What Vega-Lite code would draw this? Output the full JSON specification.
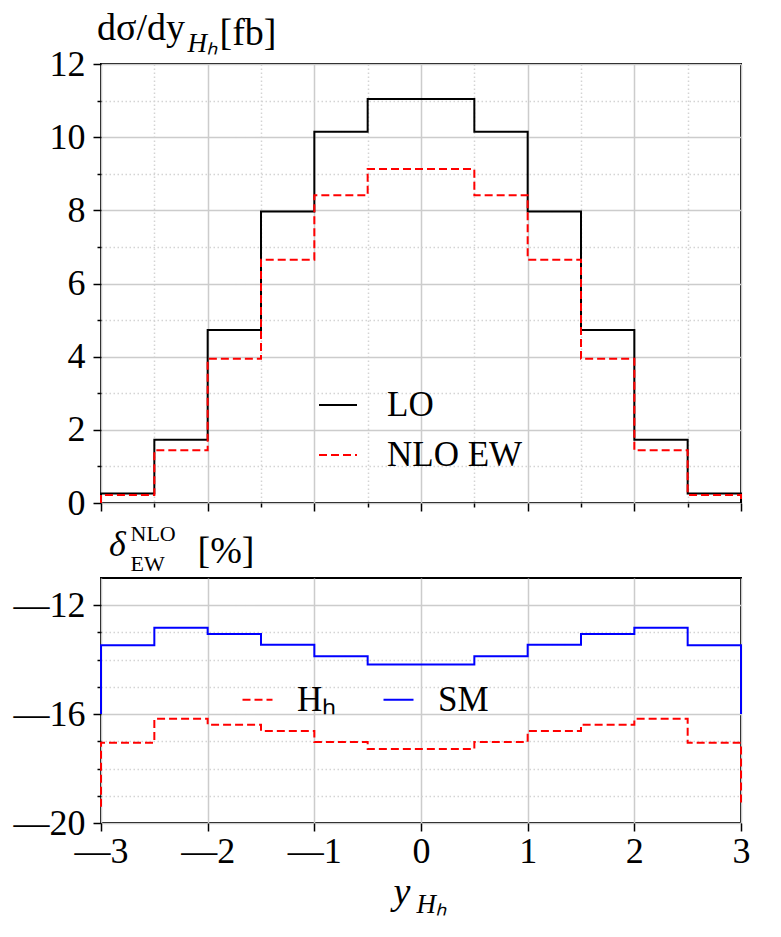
{
  "$schema": "https://vega.github.io/schema/vega-lite/v6.json",
  "background": "white",
  "padding": {"left": 12, "top": 9, "right": 5, "bottom": 5},
  "config": {
    "font": "Liberation Serif",
    "view": {"stroke": "black", "strokeWidth": 2},
    "axis": {
      "labelFont": "Liberation Serif",
      "labelFontSize": 36,
      "labelColor": "black",
      "titleFont": "Liberation Serif",
      "titleFontWeight": "normal",
      "titleColor": "black",
      "domain": false,
      "tickColor": "black",
      "tickWidth": 1.5,
      "labelOverlap": false,
      "labelFlush": false,
      "gridWidth": 1.5
    },
    "title": {"font": "Liberation Serif", "fontWeight": "normal", "color": "black"},
    "legend": {"labelFont": "Liberation Serif", "labelFontSize": 35, "labelColor": "black", "padding": 0}
  },
  "spacing": 75,
  "bounds": "flush",
  "resolve": {
    "scale": {"color": "independent", "strokeDash": "independent"},
    "legend": {"color": "independent", "strokeDash": "independent"}
  },
  "vconcat": [
    {
      "width": 640,
      "height": 439,
      "title": {"text": "dσ/dy", "anchor": "start", "frame": "group", "fontSize": 38, "baseline": "alphabetic", "offset": -64, "dx": -4},
      "data": {
        "values": [
          {"series": "LO", "k": 0, "rap": -3, "val": 0},
          {"series": "LO", "k": 1, "rap": -3, "val": 0.26},
          {"series": "LO", "k": 2, "rap": -2.5, "val": 1.73},
          {"series": "LO", "k": 3, "rap": -2, "val": 4.73},
          {"series": "LO", "k": 4, "rap": -1.5, "val": 7.97},
          {"series": "LO", "k": 5, "rap": -1, "val": 10.15},
          {"series": "LO", "k": 6, "rap": -0.5, "val": 11.04},
          {"series": "LO", "k": 7, "rap": 0, "val": 11.04},
          {"series": "LO", "k": 8, "rap": 0.5, "val": 10.15},
          {"series": "LO", "k": 9, "rap": 1, "val": 7.97},
          {"series": "LO", "k": 10, "rap": 1.5, "val": 4.73},
          {"series": "LO", "k": 11, "rap": 2, "val": 1.73},
          {"series": "LO", "k": 12, "rap": 2.5, "val": 0.26},
          {"series": "LO", "k": 13, "rap": 3, "val": 0.26},
          {"series": "LO", "k": 14, "rap": 3, "val": 0},
          {"series": "NLO EW", "k": 0, "rap": -3, "val": 0},
          {"series": "NLO EW", "k": 1, "rap": -3, "val": 0.22},
          {"series": "NLO EW", "k": 2, "rap": -2.5, "val": 1.44},
          {"series": "NLO EW", "k": 3, "rap": -2, "val": 3.94},
          {"series": "NLO EW", "k": 4, "rap": -1.5, "val": 6.65},
          {"series": "NLO EW", "k": 5, "rap": -1, "val": 8.41},
          {"series": "NLO EW", "k": 6, "rap": -0.5, "val": 9.13},
          {"series": "NLO EW", "k": 7, "rap": 0, "val": 9.13},
          {"series": "NLO EW", "k": 8, "rap": 0.5, "val": 8.41},
          {"series": "NLO EW", "k": 9, "rap": 1, "val": 6.65},
          {"series": "NLO EW", "k": 10, "rap": 1.5, "val": 3.94},
          {"series": "NLO EW", "k": 11, "rap": 2, "val": 1.44},
          {"series": "NLO EW", "k": 12, "rap": 2.5, "val": 0.22},
          {"series": "NLO EW", "k": 13, "rap": 3, "val": 0.22},
          {"series": "NLO EW", "k": 14, "rap": 3, "val": 0}
        ]
      },
      "mark": {"type": "line", "interpolate": "step-after", "strokeWidth": 2},
      "encoding": {
        "x": {
          "field": "rap",
          "type": "quantitative",
          "scale": {"domain": [-3, 3], "nice": false, "zero": false},
          "axis": {
            "values": [-3, -2.5, -2, -1.5, -1, -0.5, 0, 0.5, 1, 1.5, 2, 2.5, 3],
            "labels": false,
            "tickSize": {"condition": {"test": "datum.value % 1 === 0", "value": 8}, "value": 4},
            "gridDash": {"condition": {"test": "datum.value % 1 === 0", "value": [1, 0]}, "value": [1.5, 2.5]},
            "gridColor": {"condition": {"test": "datum.value % 1 === 0", "value": "#cccccc"}, "value": "#d4d4d4"},
            "title": "[fb]",
            "titleFontSize": 38,
            "titleX": 118,
            "titleY": -459,
            "titleAlign": "left",
            "titleBaseline": "alphabetic"
          }
        },
        "y": {
          "field": "val",
          "type": "quantitative",
          "scale": {"domain": [0, 12], "nice": false},
          "axis": {
            "values": [0, 0.5, 1, 1.5, 2, 2.5, 3, 3.5, 4, 4.5, 5, 5.5, 6, 6.5, 7, 7.5, 8, 8.5, 9, 9.5, 10, 10.5, 11, 11.5, 12],
            "format": "d",
            "labelExpr": "datum.value % 2 === 0 ? datum.label : ''",
            "labelPadding": 8,
            "tickSize": {"condition": {"test": "datum.value % 2 === 0", "value": 8}, "value": 4},
            "gridDash": {"condition": {"test": "datum.value % 2 === 0", "value": [1, 0]}, "value": [1.5, 2.5]},
            "gridColor": {"condition": {"test": "datum.value % 2 === 0", "value": "#cccccc"}, "value": "#d4d4d4"},
            "title": "Hₕ",
            "titleFontSize": 27,
            "titleFontStyle": "italic",
            "titleAngle": 0,
            "titleX": 86,
            "titleY": -13,
            "titleAlign": "left",
            "titleBaseline": "alphabetic"
          }
        },
        "color": {
          "field": "series",
          "type": "nominal",
          "scale": {"domain": ["LO", "NLO EW"], "range": ["black", "#ff0000"]},
          "legend": {"title": null, "orient": "none", "legendX": 217, "legendY": 321, "symbolType": "stroke", "symbolSize": 1444, "symbolStrokeWidth": 2, "labelOffset": 29, "rowPadding": 12}
        },
        "strokeDash": {
          "field": "series",
          "type": "nominal",
          "scale": {"domain": ["LO", "NLO EW"], "range": [[1, 0], [8, 4]]},
          "legend": {"title": null, "orient": "none", "legendX": 217, "legendY": 321, "symbolType": "stroke", "symbolSize": 1444, "symbolStrokeWidth": 2, "labelOffset": 29, "rowPadding": 12}
        },
        "order": {"field": "k"}
      }
    },
    {
      "width": 640,
      "height": 245,
      "title": {"text": "δ", "anchor": "start", "frame": "group", "fontSize": 36, "fontStyle": "italic", "baseline": "alphabetic", "offset": -70, "dx": 8},
      "data": {
        "values": [
          {"series": "Hₕ", "k": 0, "rap": -3, "val": -19.4},
          {"series": "Hₕ", "k": 1, "rap": -3, "val": -17.05},
          {"series": "Hₕ", "k": 2, "rap": -2.5, "val": -16.17},
          {"series": "Hₕ", "k": 3, "rap": -2, "val": -16.39},
          {"series": "Hₕ", "k": 4, "rap": -1.5, "val": -16.62},
          {"series": "Hₕ", "k": 5, "rap": -1, "val": -17.02},
          {"series": "Hₕ", "k": 6, "rap": -0.5, "val": -17.28},
          {"series": "Hₕ", "k": 7, "rap": 0, "val": -17.28},
          {"series": "Hₕ", "k": 8, "rap": 0.5, "val": -17.02},
          {"series": "Hₕ", "k": 9, "rap": 1, "val": -16.62},
          {"series": "Hₕ", "k": 10, "rap": 1.5, "val": -16.39},
          {"series": "Hₕ", "k": 11, "rap": 2, "val": -16.17},
          {"series": "Hₕ", "k": 12, "rap": 2.5, "val": -17.05},
          {"series": "Hₕ", "k": 13, "rap": 3, "val": -17.05},
          {"series": "Hₕ", "k": 14, "rap": 3, "val": -19.3},
          {"series": "SM", "k": 0, "rap": -3, "val": -16},
          {"series": "SM", "k": 1, "rap": -3, "val": -13.47},
          {"series": "SM", "k": 2, "rap": -2.5, "val": -12.83},
          {"series": "SM", "k": 3, "rap": -2, "val": -13.06},
          {"series": "SM", "k": 4, "rap": -1.5, "val": -13.45},
          {"series": "SM", "k": 5, "rap": -1, "val": -13.87},
          {"series": "SM", "k": 6, "rap": -0.5, "val": -14.18},
          {"series": "SM", "k": 7, "rap": 0, "val": -14.18},
          {"series": "SM", "k": 8, "rap": 0.5, "val": -13.87},
          {"series": "SM", "k": 9, "rap": 1, "val": -13.45},
          {"series": "SM", "k": 10, "rap": 1.5, "val": -13.06},
          {"series": "SM", "k": 11, "rap": 2, "val": -12.83},
          {"series": "SM", "k": 12, "rap": 2.5, "val": -13.47},
          {"series": "SM", "k": 13, "rap": 3, "val": -13.47},
          {"series": "SM", "k": 14, "rap": 3, "val": -16}
        ]
      },
      "encoding": {
        "color": {
          "field": "series",
          "type": "nominal",
          "scale": {"domain": ["Hₕ", "SM"], "range": ["#ff0000", "#0000ff"]},
          "legend": {"title": null, "orient": "none", "direction": "horizontal", "legendX": 139, "legendY": 104, "symbolType": "stroke", "symbolSize": 900, "symbolStrokeWidth": 2, "labelOffset": 22, "columnPadding": 42}
        },
        "strokeDash": {
          "field": "series",
          "type": "nominal",
          "scale": {"domain": ["Hₕ", "SM"], "range": [[8, 4], [1, 0]]},
          "legend": {"title": null, "orient": "none", "direction": "horizontal", "legendX": 139, "legendY": 104, "symbolType": "stroke", "symbolSize": 900, "symbolStrokeWidth": 2, "labelOffset": 22, "columnPadding": 42}
        },
        "order": {"field": "k"}
      },
      "layer": [
        {
          "transform": [{"filter": "datum.series !== 'SM'"}],
          "mark": {"type": "line", "interpolate": "step-after", "strokeWidth": 2},
          "encoding": {
            "x": {
              "field": "rap",
              "type": "quantitative",
              "scale": {"domain": [-3, 3], "nice": false, "zero": false},
              "axis": {
                "values": [-3, -2.5, -2, -1.5, -1, -0.5, 0, 0.5, 1, 1.5, 2, 2.5, 3],
                "format": "d",
                "labelExpr": "datum.value % 1 !== 0 ? '' : datum.value < 0 ? '—' + format(abs(datum.value), 'd') : datum.label",
                "labelPadding": 3,
                "tickSize": {"condition": {"test": "datum.value % 1 === 0", "value": 8}, "value": 4},
                "gridDash": {"condition": {"test": "datum.value % 1 === 0", "value": [1, 0]}, "value": [1.5, 2.5]},
                "gridColor": {"condition": {"test": "datum.value % 1 === 0", "value": "#cccccc"}, "value": "#d4d4d4"},
                "title": "y",
                "titleFontSize": 38,
                "titleFontStyle": "italic",
                "titleX": 292,
                "titleY": 80,
                "titleAlign": "left",
                "titleBaseline": "alphabetic"
              }
            },
            "y": {
              "field": "val",
              "type": "quantitative",
              "scale": {"domain": [-20, -11], "nice": false, "zero": false},
              "axis": {
                "values": [-20, -19, -18, -17, -16, -15, -14, -13, -12],
                "format": "d",
                "labelExpr": "datum.value % 4 === 0 ? '—' + format(abs(datum.value), 'd') : ''",
                "labelPadding": 8,
                "tickSize": {"condition": {"test": "datum.value % 4 === 0", "value": 8}, "value": 4},
                "gridDash": {"condition": {"test": "datum.value % 4 === 0", "value": [1, 0]}, "value": [1.5, 2.5]},
                "gridColor": {"condition": {"test": "datum.value % 4 === 0", "value": "#cccccc"}, "value": "#d4d4d4"},
                "title": ["NLO", "EW"],
                "titleFontSize": 22,
                "titleAngle": 0,
                "titleX": 29,
                "titleY": -38,
                "titleAlign": "left",
                "titleBaseline": "alphabetic",
                "titleLineHeight": 30
              }
            }
          }
        },
        {
          "transform": [{"filter": "datum.series === 'SM'"}],
          "mark": {"type": "line", "interpolate": "step-after", "strokeWidth": 2},
          "encoding": {
            "x": {
              "field": "rap",
              "type": "quantitative",
              "scale": {"domain": [-3, 3], "nice": false, "zero": false},
              "axis": {
                "orient": "top",
                "labels": false,
                "ticks": false,
                "grid": false,
                "title": "[%]",
                "titleFontSize": 38,
                "titleX": 96,
                "titleY": -16,
                "titleAlign": "left",
                "titleBaseline": "alphabetic"
              }
            },
            "y": {
              "field": "val",
              "type": "quantitative",
              "scale": {"domain": [-20, -11], "nice": false, "zero": false},
              "axis": {
                "orient": "right",
                "labels": false,
                "ticks": false,
                "grid": false,
                "title": "Hₕ",
                "titleFontSize": 27,
                "titleFontStyle": "italic",
                "titleAngle": 0,
                "titleX": -325,
                "titleY": 334,
                "titleAlign": "left",
                "titleBaseline": "alphabetic"
              }
            }
          }
        }
      ],
      "resolve": {
        "scale": {"x": "independent", "y": "independent"},
        "axis": {"x": "independent", "y": "independent"}
      }
    }
  ]
}
